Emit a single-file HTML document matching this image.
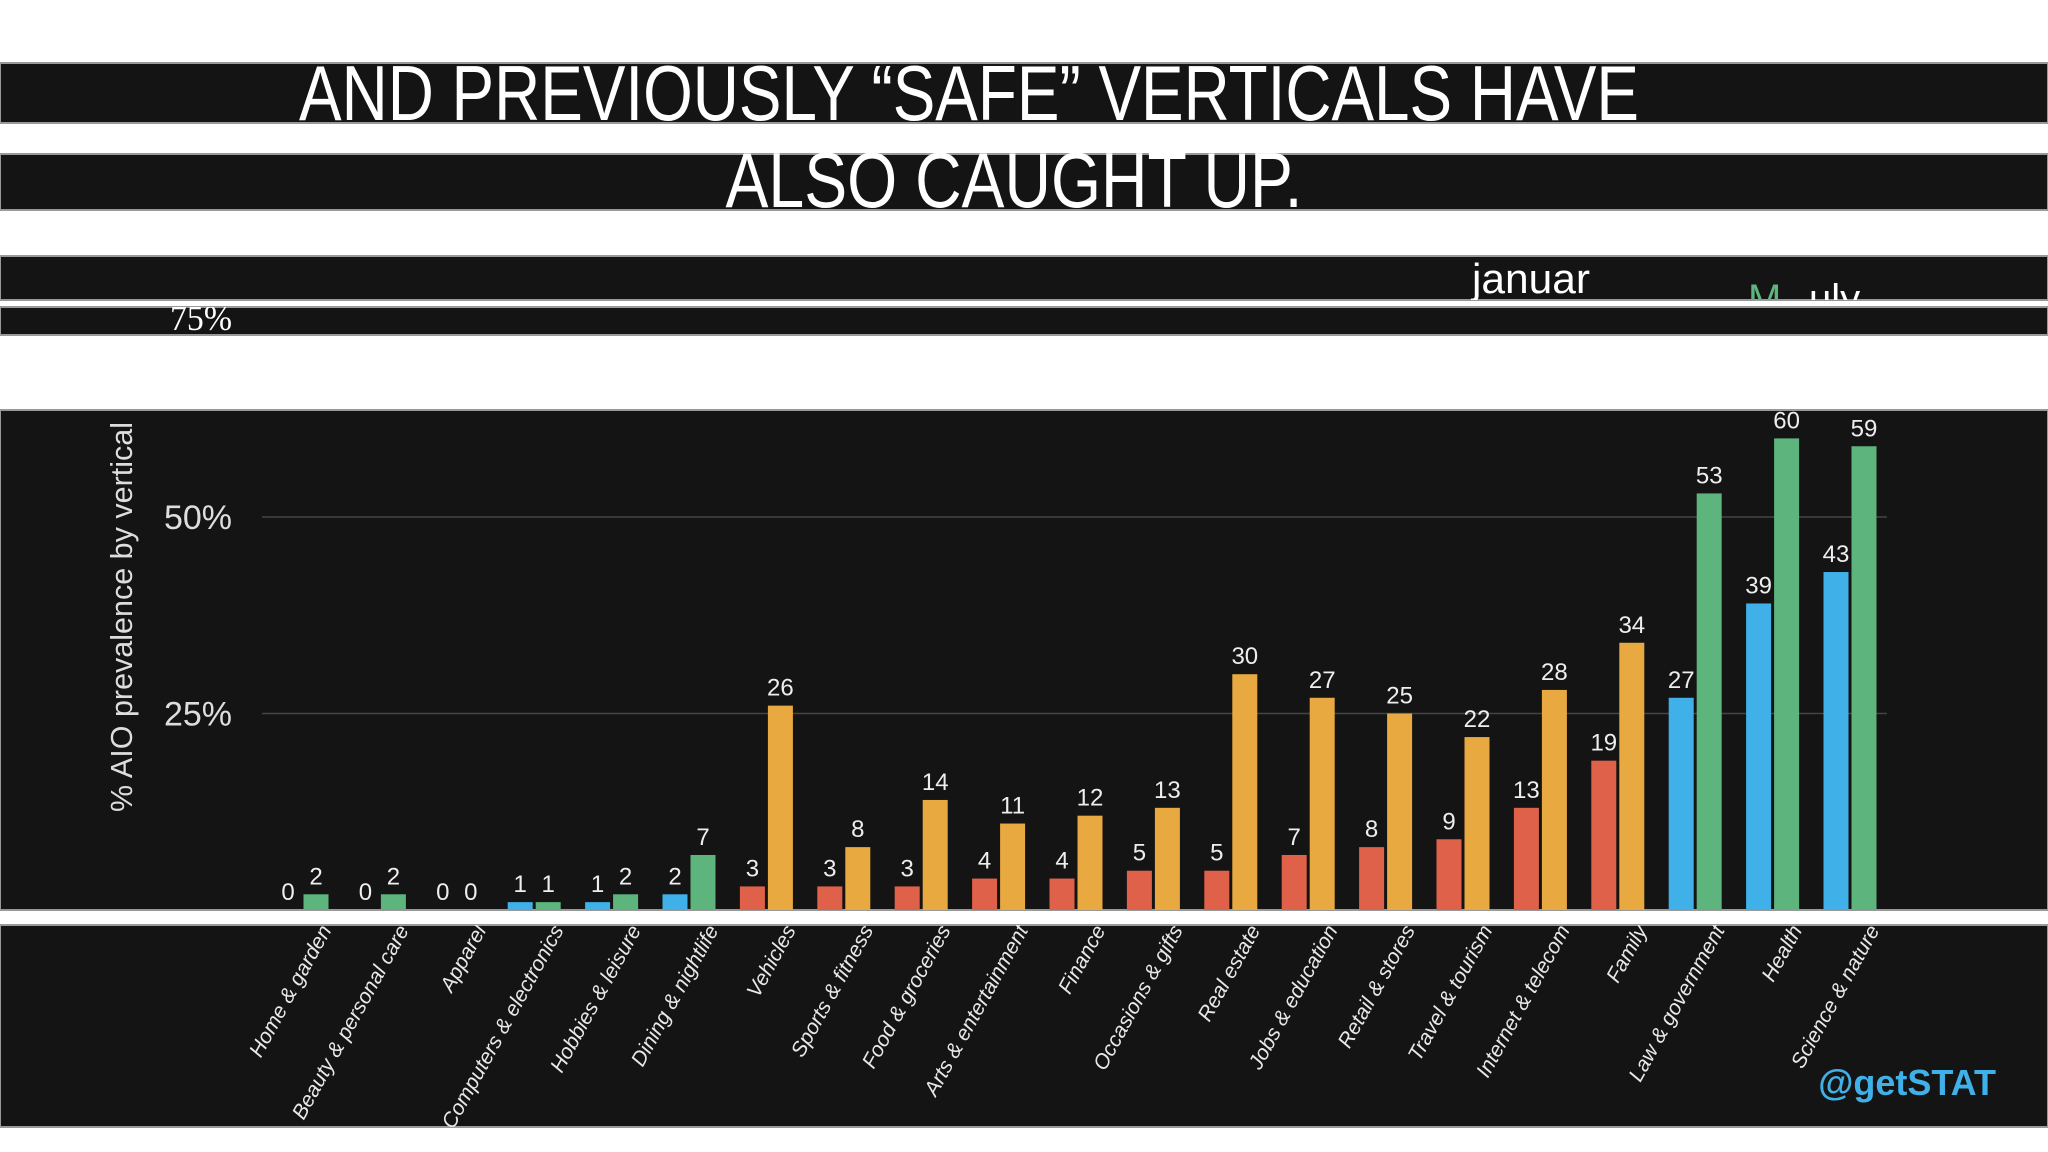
<!DOCTYPE html>
<html><head><meta charset="utf-8"><style>
html,body{margin:0;padding:0;background:#fff;}
svg{display:block;font-family:"Liberation Sans","DejaVu Sans",sans-serif;}
</style></head><body>
<svg id="c" width="2048" height="1152" viewBox="0 0 2048 1152">
<defs>
<clipPath id="b3"><rect x="0" y="256" width="2048" height="44"/></clipPath>
<clipPath id="b4"><rect x="0" y="307" width="2048" height="28"/></clipPath>
<clipPath id="lp"><rect x="0" y="925" width="2048" height="202"/></clipPath>
</defs>
<rect x="0" y="0" width="2048" height="1152" fill="#fff"/>
<g>
<rect x="0" y="63" width="2048" height="60" fill="#141414" stroke="#999" stroke-width="2"/>
<text x="969" y="120" text-anchor="middle" fill="#fff" font-size="78" textLength="1340" lengthAdjust="spacingAndGlyphs">AND PREVIOUSLY “SAFE” VERTICALS HAVE</text>
</g>
<g>
<rect x="0" y="154" width="2048" height="56" fill="#141414" stroke="#999" stroke-width="2"/>
<text x="1014" y="207" text-anchor="middle" fill="#fff" font-size="78" textLength="577" lengthAdjust="spacingAndGlyphs">ALSO CAUGHT UP.</text>
</g>
<g>
<rect x="0" y="256" width="2048" height="44" fill="#141414" stroke="#999" stroke-width="2"/>
<g clip-path="url(#b3)">
<text x="1472" y="293" fill="#fff" font-size="42" textLength="118" lengthAdjust="spacingAndGlyphs">januar</text>
<text x="1748" y="312" fill="#5db57d" font-size="40">M</text>
<text x="1809" y="312" fill="#fff" font-size="40">uly</text>
</g>
</g>
<g>
<rect x="0" y="307" width="2048" height="28" fill="#141414" stroke="#999" stroke-width="2"/>
<g clip-path="url(#b4)">
<text x="170" y="330" fill="#fff" font-size="36" font-family="Liberation Serif,serif" textLength="62" lengthAdjust="spacingAndGlyphs">75%</text>
</g>
</g>
<rect x="0" y="410" width="2048" height="500" fill="#141414" stroke="#999" stroke-width="2"/>
<rect x="0" y="925" width="2048" height="202" fill="#141414" stroke="#999" stroke-width="2"/>
<text transform="translate(132,617) rotate(-90)" text-anchor="middle" fill="#ddd" font-size="31" textLength="390" lengthAdjust="spacingAndGlyphs">% AIO prevalence by vertical</text>
<g id="grid"></g>
<g id="bars"></g>
<g id="cats" clip-path="url(#lp)"></g>
<text x="1996" y="1095" text-anchor="end" fill="#3fb0e8" font-size="36" font-weight="bold">@getSTAT</text>
</svg>
<script>
const categories=["Home & garden","Beauty & personal care","Apparel","Computers & electronics","Hobbies & leisure","Dining & nightlife","Vehicles","Sports & fitness","Food & groceries","Arts & entertainment","Finance","Occasions & gifts","Real estate","Jobs & education","Retail & stores","Travel & tourism","Internet & telecom","Family","Law & government","Health","Science & nature"];
const januaryValues=[0,0,0,1,1,2,3,3,3,4,4,5,5,7,8,9,13,19,27,39,43];
const julyValues=[2,2,0,1,2,7,26,8,14,11,12,13,30,27,25,22,28,34,53,60,59];
const groupType=["g","g","g","g","g","g","o","o","o","o","o","o","o","o","o","o","o","o","g","g","g"];
const yTicks=[25,50];
const tickLabels=["25%","50%"];
const NS="http://www.w3.org/2000/svg";
function y(v){return 910-v*7.86;}
function xc(i){return 302+i*77.4;}
function mk(t,a,p){const e=document.createElementNS(NS,t);for(const k in a)e.setAttribute(k,a[k]);p.appendChild(e);return e;}
const grid=document.getElementById('grid'),bars=document.getElementById('bars'),cats=document.getElementById('cats');
yTicks.forEach((t,i)=>{
 const l=mk('line',{x1:262,x2:1887,y1:y(t),y2:y(t),stroke:'#444','stroke-width':1.5},grid);
 
 
 const tx=mk('text',{x:232,y:y(t)+12,'text-anchor':'end',fill:'#ddd','font-size':34},grid);
 tx.textContent=tickLabels[i];
 
 
});
categories.forEach((c,i)=>{
 const cx=xc(i);
 const jv=januaryValues[i],uv=julyValues[i];
 const jc=groupType[i]==="g"?"#3fb0e8":"#e0614a";
 const uc=groupType[i]==="g"?"#5db57d":"#e8a940";
 const bw=25;
 const b1=mk('rect',{x:cx-bw-1.5,y:y(jv),width:bw,height:910-y(jv),fill:jc},bars);
 
 
 const b2=mk('rect',{x:cx+1.5,y:y(uv),width:bw,height:910-y(uv),fill:uc},bars);
 
 
 const l1=mk('text',{x:cx-bw/2-1.5,y:y(jv)-10,'text-anchor':'middle',fill:'#eee','font-size':24},bars);
 l1.textContent=jv;
 
 
 const l2=mk('text',{x:cx+bw/2+1.5,y:y(uv)-10,'text-anchor':'middle',fill:'#eee','font-size':24},bars);
 l2.textContent=uv;
 
 
 const ct=mk('text',{transform:'translate('+(cx+30)+',930) rotate(-61)','text-anchor':'end',fill:'#e8e8e8','font-size':21,'font-style':'italic'},cats);
 ct.textContent=c;
 
 
});
</script>
</body></html>
